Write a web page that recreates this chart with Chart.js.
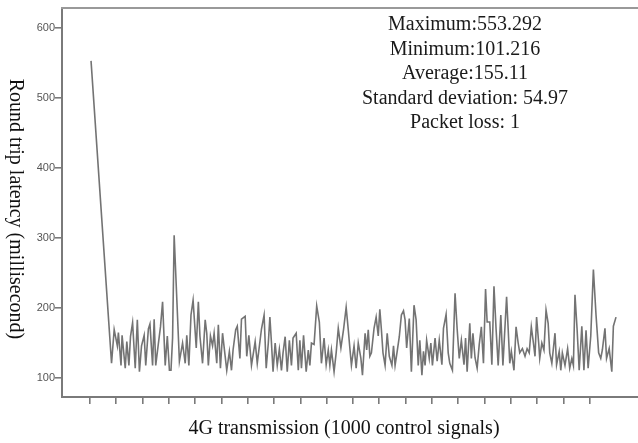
<!DOCTYPE html>
<html><head><meta charset="utf-8">
<script src="https://cdn.jsdelivr.net/npm/chart.js@4.4.1/dist/chart.umd.min.js"></script>
<style>html,body{margin:0;padding:0;background:#fff}#wrap{width:638px;height:443px}</style>
</head><body><div id="wrap"><canvas id="c" width="638" height="443"></canvas></div>
<script>
// signal number (x) and round trip latency in ms (y)
const signalIndex = [2,41,46,52,54,59,61,67,70,74,77,81,86,90,94,98,103,106,111,114,119,122,125,130,134,138,143,147,151,154,157,160,170,176,181,184,188,192,196,202,206,209,214,219,222,225,229,233,236,241,244,248,252,257,260,265,269,272,277,280,285,288,295,298,302,307,314,318,326,331,335,339,342,345,348,352,356,360,364,367,371,375,379,383,386,392,396,399,402,406,411,415,418,421,426,431,436,440,445,449,453,456,459,464,468,472,477,482,487,491,494,497,502,506,510,515,518,523,526,529,532,535,540,544,548,551,554,557,561,565,569,574,577,580,584,588,592,596,599,602,607,611,616,620,624,627,631,634,637,640,645,648,651,656,660,664,669,672,677,681,684,689,694,698,702,706,711,714,717,722,725,728,732,736,740,744,748,752,755,760,764,768,772,776,781,785,792,795,798,801,806,810,814,817,822,827,831,835,839,843,846,849,853,855,859,863,867,871,874,878,884,887,892,895,898,903,908,912,916,919,922,926,930,935,939,943,947,952,957,962,967,971,974,979,982,987,992,995,1000];
const latency = [553,121,169,146,165,118,161,114,152,118,159,179,114,183,109,146,161,118,170,177,118,184,118,149,173,209,118,160,111,111,157,304,124,150,121,161,118,190,211,143,209,160,121,183,164,118,160,146,164,121,176,114,164,131,111,138,111,140,169,174,128,184,188,131,161,118,152,121,170,190,114,150,187,150,109,150,118,141,111,136,159,109,154,118,157,164,111,154,114,161,109,140,118,150,148,203,180,121,157,119,140,118,140,109,136,171,143,169,201,169,143,118,146,114,150,128,104,164,140,169,131,136,171,187,160,198,169,136,118,164,131,118,146,118,138,159,190,196,183,143,185,109,204,183,118,154,104,138,118,154,128,150,118,157,124,154,119,171,191,136,121,111,221,170,128,154,119,157,109,178,128,164,129,114,148,173,121,227,180,180,119,231,170,118,190,118,216,170,121,138,111,173,150,136,142,131,142,136,173,150,131,187,150,128,150,140,197,178,136,121,164,119,138,111,136,118,142,114,128,118,219,170,111,174,111,168,114,160,255,190,136,128,140,171,128,142,109,174,187];
const yTicks = [100,200,300,400,500,600];
const xTicks = [0,50,100,150,200,250,300,350,400,450,500,550,600,650,700,750,800,850,900,950];
const statsLines = ['Maximum:553.292','Minimum:101.216','Average:155.11','Standard deviation: 54.97','Packet loss: 1'];
const yTitle = 'Round trip latency (millisecond)';
const xTitle = '4G transmission (1000 control signals)';

const axisColor = '#7a7a7a';
const serif = '"Liberation Serif","Times New Roman",serif';

const decor = {
  id: 'decor',
  afterDraw(chart) {
    const ctx = chart.ctx, a = chart.chartArea;
    ctx.save();
    ctx.strokeStyle = '#999';
    ctx.lineWidth = 2;
    ctx.beginPath();
    ctx.moveTo(a.left - 1, a.top);
    ctx.lineTo(638, a.top);
    ctx.stroke();
    ctx.fillStyle = '#111';
    ctx.font = '20px ' + serif;
    ctx.textAlign = 'center';
    ctx.textBaseline = 'middle';
    // y title, rotated clockwise
    ctx.save();
    ctx.translate(15, 209);
    ctx.rotate(Math.PI / 2);
    ctx.fillText(yTitle, 0, 0);
    ctx.restore();
    // x title
    ctx.fillText(xTitle, 344, 429);
    // stats
    ctx.fillStyle = '#1a1a1a';
    statsLines.forEach((t, i) => ctx.fillText(t, 465, 25 + i * 24.5));
    ctx.restore();
  }
};

new Chart(document.getElementById('c'), {
  type: 'line',
  data: {
    datasets: [{
      data: signalIndex.map((s, i) => ({ x: s, y: latency[i] })),
      borderColor: 'rgba(55,55,55,0.7)',
      borderWidth: 1.6,
      pointRadius: 0,
      tension: 0,
      fill: false
    }]
  },
  options: {
    responsive: false,
    animation: false,
    devicePixelRatio: 1,
    layout: { padding: { top: 8, left: 0, right: 0, bottom: 0 } },
    plugins: { legend: { display: false }, tooltip: { enabled: false } },
    scales: {
      x: {
        type: 'linear',
        min: -53.2,
        max: 1041.8,
        afterBuildTicks: s => { s.ticks = xTicks.map(v => ({ value: v })); },
        afterFit: s => { s.height = 46; },
        ticks: { display: false },
        grid: { drawOnChartArea: false, drawTicks: true, tickLength: 7, color: axisColor, lineWidth: 1.6 },
        border: { display: true, color: axisColor, width: 2 }
      },
      y: {
        type: 'linear',
        min: 72.86,
        max: 628.6,
        afterBuildTicks: s => { s.ticks = yTicks.map(v => ({ value: v })); },
        afterFit: s => { s.width = 62; },
        ticks: { color: '#555', font: { family: 'Arial, "Liberation Sans", sans-serif', size: 11 }, padding: 0 },
        grid: { drawOnChartArea: false, drawTicks: true, tickLength: 7, color: axisColor, lineWidth: 1.6 },
        border: { display: true, color: axisColor, width: 2 }
      }
    }
  },
  plugins: [decor]
});
</script>
</body></html>
